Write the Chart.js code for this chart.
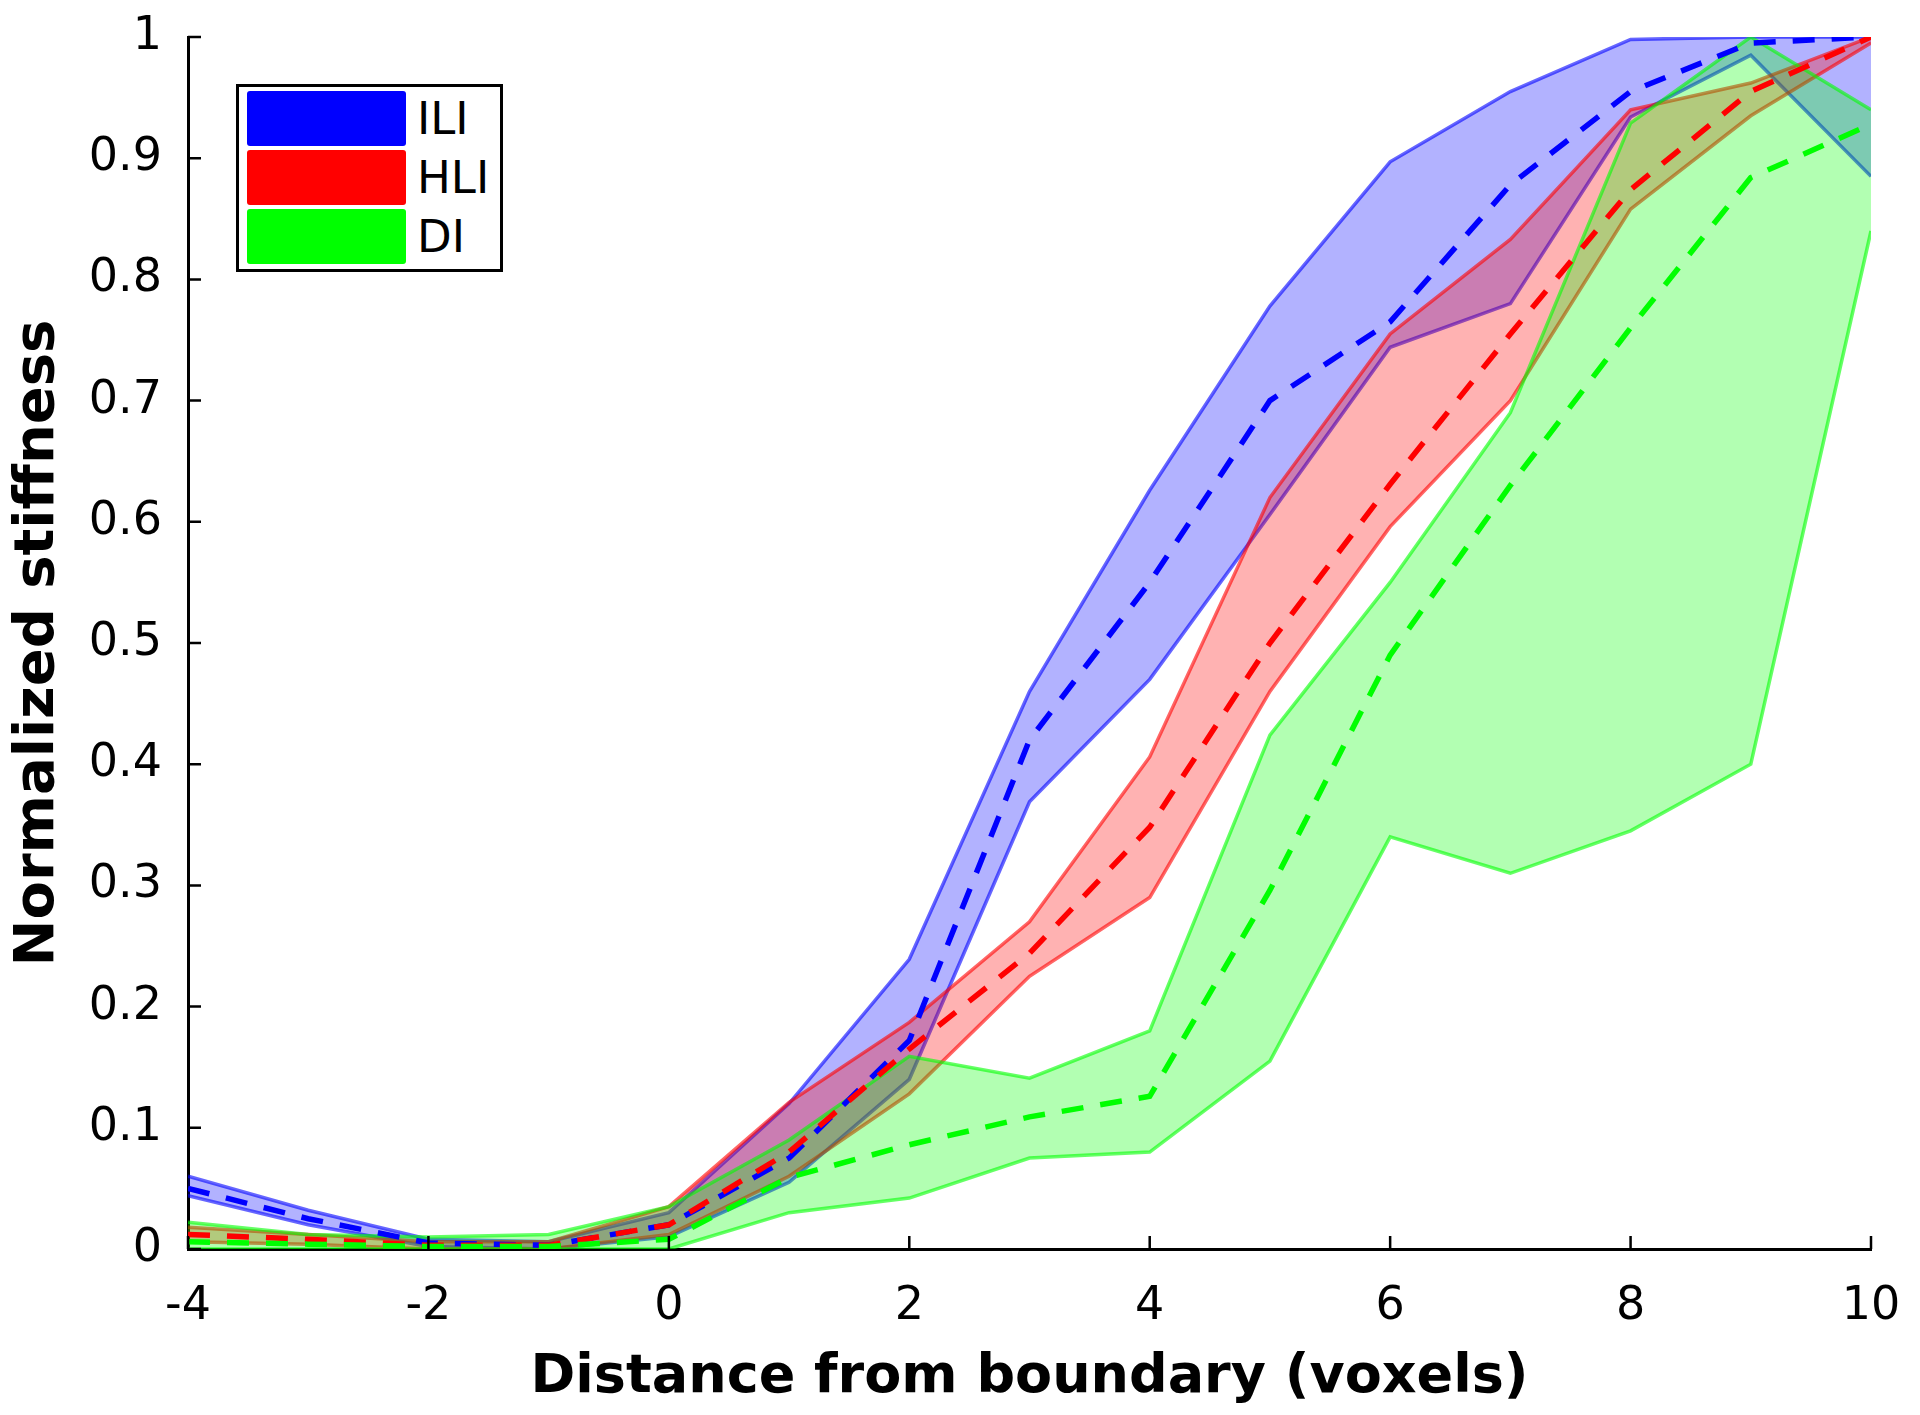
<!DOCTYPE html>
<html>
<head>
<meta charset="utf-8">
<script src="https://cdn.jsdelivr.net/npm/chart.js@4.4.1/dist/chart.umd.min.js"></script>
<style>
    html, body { margin: 0; padding: 0; background: #fff; }
    #wrap { position: relative; width: 1920px; height: 1415px; }
    #legend {
        position: absolute; left: 236px; top: 84px; width: 261px; height: 182px;
        border: 3px solid #000; background: #fff;
        font-family: 'DejaVu Sans', sans-serif; font-size: 45px; color: #000;
    }
    .item { position: absolute; left: 8px; height: 55px; }
    .swatch { position: absolute; left: 0; top: 0; width: 159px; height: 55px; border-radius: 3px; }
    .item span { position: absolute; left: 170px; top: 0; line-height: 55px; }
</style>
</head>
<body>
<div id="wrap">
    <canvas id="chart" width="1920" height="1415"></canvas>
    <div id="legend"></div>
</div>
<script>
// distance from boundary (voxels)
const distances = [-4, -3, -2, -1, 0, 1, 2, 3, 4, 5, 6, 7, 8, 9, 10];

// ILI
const iliMean  = [0.050, 0.025, 0.005, 0.003, 0.020, 0.075, 0.172, 0.420, 0.550, 0.700, 0.765, 0.878, 0.955, 0.995, 1.000];
const iliUpper = [0.060, 0.032, 0.008, 0.006, 0.030, 0.120, 0.239, 0.460, 0.626, 0.778, 0.897, 0.955, 0.998, 1.000, 1.000];
const iliLower = [0.044, 0.020, 0.002, 0.000, 0.010, 0.055, 0.140, 0.369, 0.470, 0.606, 0.744, 0.780, 0.934, 0.985, 0.885];

// HLI
const hliMean  = [0.012, 0.008, 0.003, 0.003, 0.020, 0.080, 0.165, 0.244, 0.348, 0.500, 0.631, 0.755, 0.874, 0.955, 1.000];
const hliUpper = [0.018, 0.012, 0.006, 0.006, 0.035, 0.121, 0.187, 0.270, 0.406, 0.620, 0.755, 0.833, 0.940, 0.962, 1.000];
const hliLower = [0.006, 0.004, 0.000, 0.000, 0.012, 0.060, 0.128, 0.225, 0.290, 0.460, 0.596, 0.700, 0.858, 0.935, 0.995];

// DI
const diMean  = [0.006, 0.004, 0.002, 0.002, 0.008, 0.059, 0.086, 0.109, 0.126, 0.296, 0.490, 0.630, 0.760, 0.884, 0.928];
const diUpper = [0.022, 0.012, 0.010, 0.012, 0.035, 0.090, 0.159, 0.141, 0.180, 0.424, 0.550, 0.690, 0.929, 1.000, 0.940];
const diLower = [0.000, 0.000, 0.000, 0.000, 0.000, 0.030, 0.042, 0.075, 0.080, 0.155, 0.340, 0.310, 0.345, 0.400, 0.840];

const xTicks = [-4, -2, 0, 2, 4, 6, 8, 10];
const groupNames = ['ILI', 'HLI', 'DI'];

const FONT = "'DejaVu Sans', sans-serif";

function pts(values) {
    return values.map((v, i) => ({ x: distances[i], y: v }));
}

const groups = [
    { mean: iliMean, upper: iliUpper, lower: iliLower, rgb: '0,0,255', order: 2 },
    { mean: hliMean, upper: hliUpper, lower: hliLower, rgb: '255,0,0', order: 1 },
    { mean: diMean,  upper: diUpper,  lower: diLower,  rgb: '0,255,0', order: 0 }
];

const datasets = [];
groups.forEach(g => {
    const lowerIndex = datasets.length;
    datasets.push({
        data: pts(g.lower),
        borderColor: 'rgba(' + g.rgb + ',0.6)',
        borderWidth: 3.5,
        pointRadius: 0,
        fill: false,
        order: 10 + g.order
    });
    datasets.push({
        data: pts(g.upper),
        borderColor: 'rgba(' + g.rgb + ',0.6)',
        backgroundColor: 'rgba(' + g.rgb + ',0.3)',
        borderWidth: 3.5,
        pointRadius: 0,
        fill: lowerIndex,
        order: 10 + g.order
    });
});
groups.forEach(g => {
    datasets.push({
        data: pts(g.mean),
        borderColor: 'rgb(' + g.rgb + ')',
        borderWidth: 5.5,
        borderDash: [22, 17],
        pointRadius: 0,
        fill: false,
        order: g.order
    });
});

// MATLAB style inward tick marks
const innerTicks = {
    id: 'innerTicks',
    afterDraw(chart) {
        const ctx = chart.ctx;
        const xs = chart.scales.x, ys = chart.scales.y;
        const area = chart.chartArea;
        ctx.save();
        ctx.strokeStyle = '#000';
        ctx.lineWidth = 2.5;
        ctx.beginPath();
        xs.ticks.forEach(t => {
            const px = xs.getPixelForValue(t.value);
            ctx.moveTo(px, area.bottom);
            ctx.lineTo(px, area.bottom - 13);
        });
        ys.ticks.forEach(t => {
            const py = ys.getPixelForValue(t.value);
            ctx.moveTo(area.left, py);
            ctx.lineTo(area.left + 13, py);
        });
        ctx.stroke();
        ctx.restore();
    }
};

new Chart(document.getElementById('chart').getContext('2d'), {
    type: 'line',
    data: { datasets: datasets },
    options: {
        responsive: false,
        animation: false,
        layout: { padding: { top: 37, right: 49, left: 0, bottom: 0 } },
        plugins: {
            legend: { display: false },
            tooltip: { enabled: false }
        },
        scales: {
            x: {
                type: 'linear',
                min: -4,
                max: 10,
                afterBuildTicks: s => { s.ticks = xTicks.map(v => ({ value: v })); },
                afterFit: s => {
                    s.height = 166;
                    s.paddingLeft = 0;
                    s.paddingRight = 0;
                },
                grid: { display: false, drawTicks: false },
                border: { display: true, color: '#000', width: 3 },
                ticks: {
                    color: '#000',
                    padding: 30,
                    font: { family: FONT, size: 46 },
                    maxRotation: 0
                },
                title: {
                    display: true,
                    text: 'Distance from boundary (voxels)',
                    color: '#000',
                    padding: { top: 0, bottom: 5 },
                    font: { family: FONT, size: 54, weight: 'bold' }
                }
            },
            y: {
                min: 0,
                max: 1,
                afterFit: s => {
                    s.width = 188;
                    s.paddingTop = 0;
                    s.paddingBottom = 0;
                },
                grid: { display: false, drawTicks: false },
                border: { display: true, color: '#000', width: 3 },
                ticks: {
                    stepSize: 0.1,
                    color: '#000',
                    padding: 26,
                    font: { family: FONT, size: 46 },
                    callback: v => String(Math.round(v * 10) / 10)
                },
                title: {
                    display: true,
                    text: 'Normalized stiffness',
                    color: '#000',
                    padding: { top: 5, bottom: 0 },
                    font: { family: FONT, size: 56, weight: 'bold' }
                }
            }
        }
    },
    plugins: [innerTicks]
});

// legend box (patch swatches)
const legendEl = document.getElementById('legend');
groups.forEach((g, i) => {
    const item = document.createElement('div');
    item.className = 'item';
    item.style.top = (4 + i * 59) + 'px';
    item.innerHTML = '<div class="swatch" style="background: rgb(' + g.rgb + ')"></div><span>' + groupNames[i] + '</span>';
    legendEl.appendChild(item);
});
</script>
</body>
</html>
